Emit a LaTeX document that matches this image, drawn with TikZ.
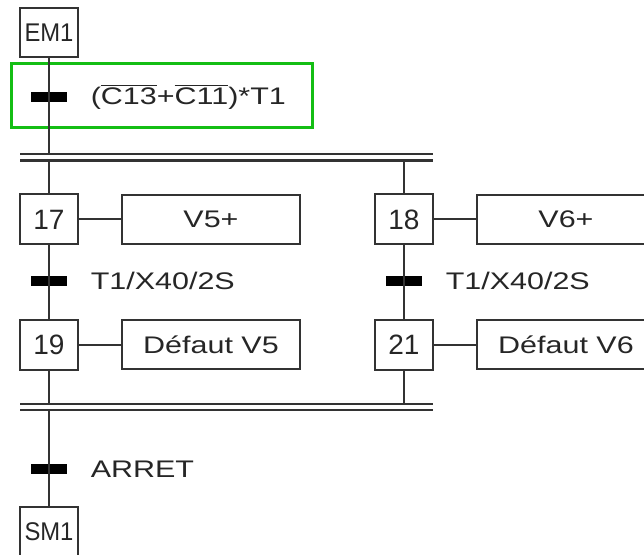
\documentclass[tikz,border=0pt]{standalone}
\usepackage{fontspec}
\setmainfont{Liberation Sans}
\newfontfamily\widefont[FakeStretch=1.27]{Liberation Sans}
\newfontfamily\narrowfont[FakeStretch=0.93]{Liberation Sans}
\usetikzlibrary{positioning}
\definecolor{selgreen}{RGB}{20,190,20}
\newcommand{\negsig}[1]{$\overline{\mbox{#1}}$}

\begin{document}
\begin{tikzpicture}[x=0.5pt, y=-0.5pt,
        node distance=21pt and 21pt,
        etape/.style={draw=black!80, line width=1pt, rectangle, minimum width=29pt, minimum height=25pt, inner sep=0pt, text=black!85, font=\fontsize{14}{14}\selectfont},
        macro/.style={etape, minimum height=24.5pt, font=\narrowfont\fontsize{12.8}{12.8}\selectfont},
        action/.style={draw=black!80, line width=1pt, rectangle, minimum width=89pt, minimum height=24.5pt, inner sep=0pt, text=black!85, font=\widefont\fontsize{12}{12}\selectfont},
        barre/.style={fill=black, rectangle, minimum width=18pt, minimum height=5pt, inner sep=0pt},
        recept/.style={right=11.5pt of #1, inner sep=0pt, text=black!85, font=\widefont\fontsize{12}{12}\selectfont},
        link/.style={draw=black!80, line width=1pt},
        sync/.style={draw=black!80, line width=1.1pt}
    ]
    \useasboundingbox (0,0) rectangle (644,555);

    % --- start: macro-step EM1 ---
    \node[macro] (em1) at (49,32.5) {EM1};
    \node[draw=selgreen, line width=1.7pt, minimum width=150.5pt, minimum height=32pt, anchor=north west] (sel) at (10,62) {};
    \node[barre] (t0) at (49,97) {};
    \node[recept=t0] (c0) {(\negsig{C13}+\negsig{C11})*T1};

    % --- divergence in AND ---
    \coordinate (divA) at (20,154);
    \coordinate (divB) at (433,154);
    \coordinate (divC) at (20,160.5);
    \coordinate (divD) at (433,160.5);
    \draw[sync] (divA) -- (divB);
    \draw[sync] (divC) -- (divD);

    % --- two parallel branches ---
    \node[etape] (s17) at (49,219.5) {17};
    \node[etape] (s18) at (404,219.5) {18};
    \node[action, right=of s17] (a17) {V5+};
    \node[action, right=of s18] (a18) {V6+};
    \node[barre] (t1) at (49,281) {};
    \node[barre] (t2) at (404,281) {};
    \node[recept=t1] (c1) {T1/X40/2S};
    \node[recept=t2] (c2) {T1/X40/2S};
    \node[etape] (s19) at (49,345) {19};
    \node[etape] (s21) at (404,345) {21};
    \node[action, right=of s19] (a19) {Défaut V5};
    \node[action, right=of s21] (a21) {Défaut V6};

    % --- convergence in AND ---
    \coordinate (cvA) at (20,404);
    \coordinate (cvB) at (433,404);
    \coordinate (cvC) at (20,410);
    \coordinate (cvD) at (433,410);
    \draw[sync] (cvA) -- (cvB);
    \draw[sync] (cvC) -- (cvD);

    % --- end: macro-step SM1 ---
    \node[barre] (t3) at (49,469) {};
    \node[recept=t3] (c3) {ARRET};
    \node[macro] (sm1) at (49,531.5) {SM1};

    % --- links ---
    \draw[link] (em1) -- (em1 |- divA);
    \draw[link] (s17 |- divC) -- (s17);
    \draw[link] (s18 |- divC) -- (s18);
    \draw[link] (s17) -- (s19);
    \draw[link] (s18) -- (s21);
    \draw[link] (s19) -- (s19 |- cvA);
    \draw[link] (s21) -- (s21 |- cvA);
    \draw[link] (sm1 |- cvC) -- (sm1);
    \draw[link] (s17) -- (a17);
    \draw[link] (s18) -- (a18);
    \draw[link] (s19) -- (a19);
    \draw[link] (s21) -- (a21);
\end{tikzpicture}
\end{document}
